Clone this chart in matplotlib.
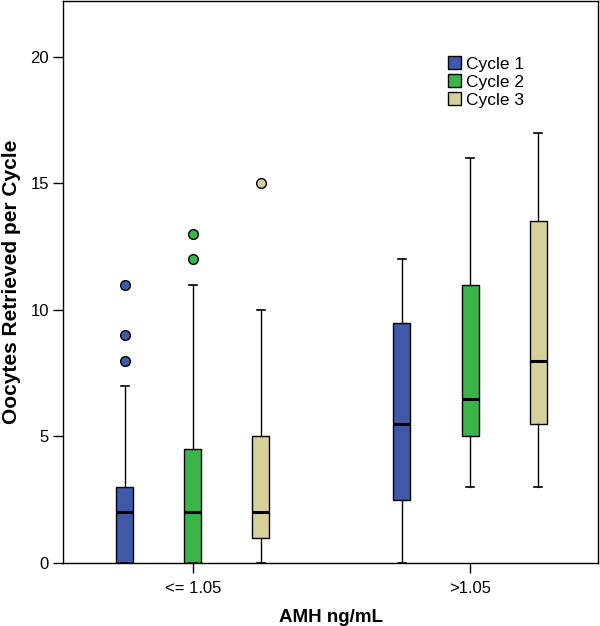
import matplotlib.pyplot as plt
from matplotlib.patches import Patch

plt.rcParams['font.family'] = ['Liberation Sans', 'DejaVu Sans']

groups = ['<= 1.05', '>1.05']
cycles = ['Cycle 1', 'Cycle 2', 'Cycle 3']
colors = ['#3F59A8', '#3BB54A', '#D6D09A']

# per group, per cycle: (whisker low, q1, median, q3, whisker high)
low_stats = [(0, 0, 2, 3, 7), (0, 0, 2, 4.5, 11), (0, 1, 2, 5, 10)]
high_stats = [(0, 2.5, 5.5, 9.5, 12), (3, 5, 6.5, 11, 16), (3, 5.5, 8, 13.5, 17)]
low_fliers = [[8, 9, 11], [12, 13], [15]]
high_fliers = [[], [], []]

all_stats = [low_stats, high_stats]
all_fliers = [low_fliers, high_fliers]

fig = plt.figure(figsize=(6, 6.26), dpi=100)
ax = fig.add_axes([0.105, 0.1006, 0.8917, 0.8974])

offset = 0.2455
width = 0.0614
for g, (stats, fliers) in enumerate(zip(all_stats, all_fliers)):
    for c, (s, fl) in enumerate(zip(stats, fliers)):
        pos = g + 1 + (c - 1) * offset
        bxp = [{'whislo': s[0], 'q1': s[1], 'med': s[2], 'q3': s[3],
                'whishi': s[4], 'fliers': fl}]
        ax.bxp(bxp, positions=[pos], widths=width, patch_artist=True,
               manage_ticks=False,
               boxprops=dict(facecolor=colors[c], edgecolor='black', linewidth=1),
               medianprops=dict(color='black', linewidth=2.2),
               whiskerprops=dict(color='black', linewidth=1),
               capprops=dict(color='black', linewidth=1.2),
               capwidths=0.03,
               flierprops=dict(marker='o', markerfacecolor=colors[c],
                               markeredgecolor='black', markersize=7,
                               markeredgewidth=1))

ax.set_xlim(0.531, 2.462)
ax.set_ylim(0, 22.2)
ax.set_xticks([1, 2])
ax.set_xticklabels(groups)
ax.set_yticks([0, 5, 10, 15, 20])
ax.tick_params(axis='both', direction='out', labelsize=12, width=1, length=7)
ax.tick_params(axis='y', pad=3)
ax.tick_params(axis='x', length=7, pad=6)
for sp in ax.spines.values():
    sp.set_linewidth(1)

ax.set_ylabel('Oocytes Retrieved per Cycle', fontsize=15, fontweight='bold', labelpad=7)
ax.set_xlabel('AMH ng/mL', fontsize=13.5, fontweight='bold', labelpad=9)

handles = [Patch(facecolor=col, edgecolor='black', label=lab) for col, lab in zip(colors, cycles)]
ax.legend(handles=handles, loc='upper left', bbox_to_anchor=(0.72, 0.902), frameon=False,
          fontsize=12.5, handlelength=0.75, handleheight=0.75, handletextpad=0.25,
          labelspacing=0.15, borderpad=0, borderaxespad=0)

fig.savefig('out.png', dpi=100)
